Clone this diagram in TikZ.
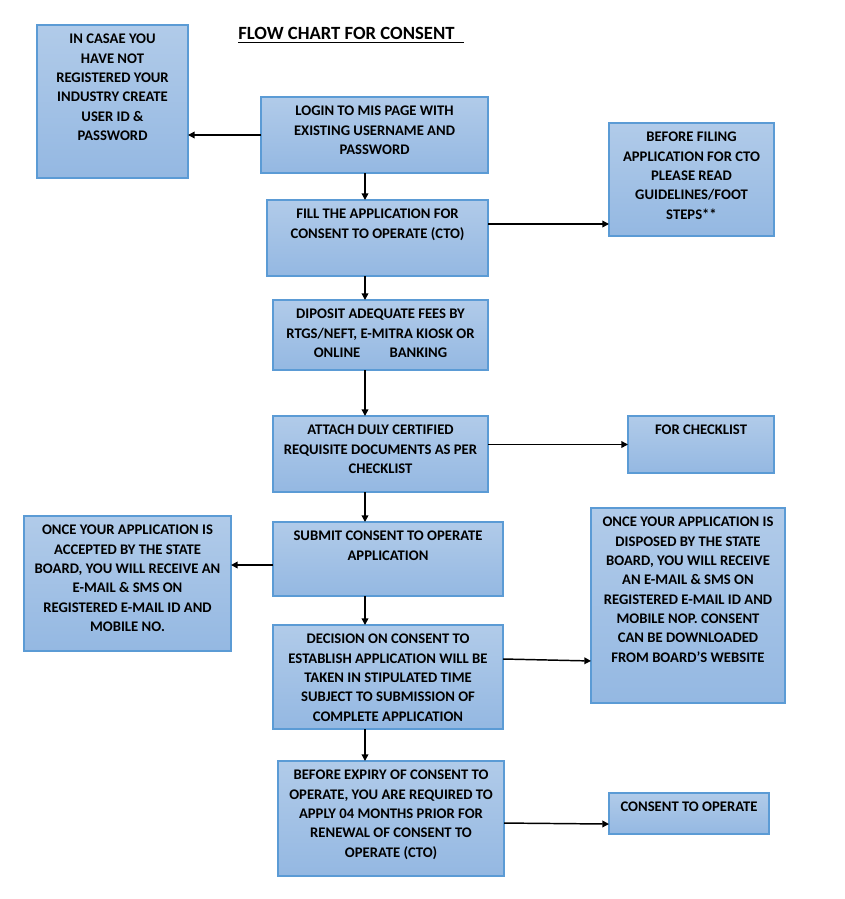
\documentclass[tikz,border=0pt]{standalone}
\usepackage{fontspec}
\setmainfont{Carlito}
\usetikzlibrary{arrows.meta,calc}
\newlength\upx
\setlength\upx{0.75pt}
\definecolor{boxtop}{HTML}{B1CBE9}
\definecolor{boxbot}{HTML}{94B8E2}
\definecolor{boxline}{HTML}{5B9BD5}
\tikzset{
  boxst/.style={rectangle, draw=boxline, line width=0.8pt, top color=boxtop, bottom color=boxbot,
    inner sep=0pt, outer sep=0pt, anchor=north west, font=\bfseries\fontsize{11pt}{14.5pt}\selectfont},
  arr/.style={-{Triangle[length=5pt,width=5pt]}, line width=1.1pt, black},
  titlest/.style={font=\bfseries\fontsize{14pt}{17pt}\selectfont, inner sep=0pt}
}
\newcommand{\mybox}[6]{%
  \node[boxst] (#1) at (#2,#3) {\parbox[c][#5\upx][t]{#4\upx}{\centering\vspace*{6.8pt}#6\par}};}
\begin{document}
\begin{tikzpicture}[x=0.75pt,y=-0.75pt]
\useasboundingbox (0,0) rectangle (845,899);
\fill[white] (0,0) rectangle (845,899);
\node[titlest, anchor=base west] (title) at (238,40) {\underline{FLOW CHART FOR CONSENT\hspace{7pt}}};
\mybox{A}{37}{25}{151}{153}{IN CASAE YOU\\HAVE NOT\\REGISTERED YOUR\\INDUSTRY CREATE\\USER ID \&\\PASSWORD}
\mybox{B}{261}{97}{227}{76}{LOGIN TO MIS PAGE WITH\\EXISTING USERNAME AND\\PASSWORD}
\mybox{C}{267}{200}{221}{76}{FILL THE APPLICATION FOR\\CONSENT TO OPERATE (CTO)}
\mybox{D}{609}{123}{165}{113}{BEFORE FILING\\APPLICATION FOR CTO\\PLEASE READ\\GUIDELINES/FOOT\\STEPS**}
\mybox{E}{273}{300}{215}{70}{DIPOSIT ADEQUATE FEES BY\\RTGS/NEFT, E-MITRA KIOSK OR\\ONLINE\hspace{22pt}BANKING}
\mybox{F}{273}{416}{215}{76}{ATTACH DULY CERTIFIED\\REQUISITE DOCUMENTS AS PER\\CHECKLIST}
\mybox{G}{628}{416}{146}{57}{FOR CHECKLIST}
\mybox{H}{273}{522}{230}{74}{SUBMIT CONSENT TO OPERATE\\APPLICATION}
\mybox{I}{24}{516}{207}{135}{ONCE YOUR APPLICATION IS\\ACCEPTED BY THE STATE\\BOARD, YOU WILL RECEIVE AN\\E-MAIL \& SMS ON\\REGISTERED E-MAIL ID AND\\MOBILE NO.}
\mybox{J}{273}{625}{230}{104}{DECISION ON CONSENT TO\\ESTABLISH APPLICATION WILL BE\\TAKEN IN STIPULATED TIME\\SUBJECT TO SUBMISSION OF\\COMPLETE APPLICATION}
\mybox{K}{591}{508}{194}{195}{ONCE YOUR APPLICATION IS\\DISPOSED BY THE STATE\\BOARD, YOU WILL RECEIVE\\AN E-MAIL \& SMS ON\\REGISTERED E-MAIL ID AND\\MOBILE NOP. CONSENT\\CAN BE DOWNLOADED\\FROM BOARD’S WEBSITE}
\mybox{L}{278}{761}{226}{115}{BEFORE EXPIRY OF CONSENT TO\\OPERATE, YOU ARE REQUIRED TO\\APPLY 04 MONTHS PRIOR FOR\\RENEWAL OF CONSENT TO\\OPERATE (CTO)}
\mybox{M}{609}{793}{160}{41}{CONSENT TO OPERATE}
\coordinate (sp) at (365,0);
% horizontal connectors
\draw[arr] (B.west) -- (B.west -| A.east);
\draw[arr] ([yshift=10.5pt]C.east) coordinate (c1) -- (c1 -| D.west);
\draw[arr] (F.east |- G.west) -- (G.west);
\draw[arr] ([yshift=-4.5pt]H.west) coordinate (h1) -- (h1 -| I.east);
\draw[arr] ([yshift=13.5pt]J.east) -- ([yshift=-41.6pt]K.west);
\draw[arr] ([yshift=-3.4pt]L.east) -- ([yshift=-7.9pt]M.west);
% vertical spine
\draw[arr] (B.south -| sp) -- (C.north -| sp);
\draw[arr] (C.south -| sp) -- (E.north -| sp);
\draw[arr] (E.south -| sp) -- (F.north -| sp);
\draw[arr] (F.south -| sp) -- (H.north -| sp);
\draw[arr] (H.south -| sp) -- (J.north -| sp);
\draw[arr] (J.south -| sp) -- (L.north -| sp);
\end{tikzpicture}
\end{document}
